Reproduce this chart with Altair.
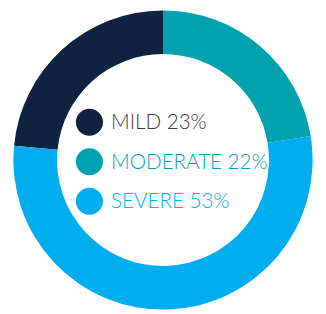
import altair as alt
import pandas as pd

categories = ["MILD", "MODERATE", "SEVERE"]
values = [23, 22, 53]
labels = ["MILD 23%", "MODERATE 22%", "SEVERE 53%"]
slice_order = [2, 0, 1]
legend_row = [0, 1, 2]
colors = ["#0F2240", "#00A3AD", "#00AEEF"]
text_colors = ["#3a3a3a", "#00A3AD", "#00AEEF"]

df = pd.DataFrame({
    "cat": categories,
    "value": values,
    "label": labels,
    "ord": slice_order,
    "row": legend_row,
    "tcolor": text_colors,
})

color_scale = alt.Scale(domain=categories, range=colors)
y_scale = alt.Scale(domain=[0, 2], range=[113.5, 194])

base = alt.Chart(df)

arc = base.mark_arc(outerRadius=152.5, innerRadius=108).encode(
    x=alt.value(158),
    y=alt.value(152),
    theta=alt.Theta("value:Q", stack=True),
    order=alt.Order("ord:Q"),
    color=alt.Color("cat:N", scale=color_scale, legend=None),
)

dots = base.mark_circle(size=760, opacity=1).encode(
    x=alt.value(83),
    y=alt.Y("row:Q", scale=y_scale, axis=None),
    color=alt.Color("cat:N", scale=color_scale, legend=None),
)

texts = base.mark_text(
    align="left", baseline="middle", font="Lato", fontSize=21, fontWeight=300, dy=1
).encode(
    x=alt.value(105),
    y=alt.Y("row:Q", scale=y_scale, axis=None),
    text="label:N",
    color=alt.Color("tcolor:N", scale=None),
)

chart = alt.layer(arc, dots, texts).properties(
    width=316, height=304, padding=0, autosize=alt.AutoSizeParams(type="none")
).configure_view(stroke=None)

chart.save("out.html", embed_options={"renderer": "svg", "actions": False})
